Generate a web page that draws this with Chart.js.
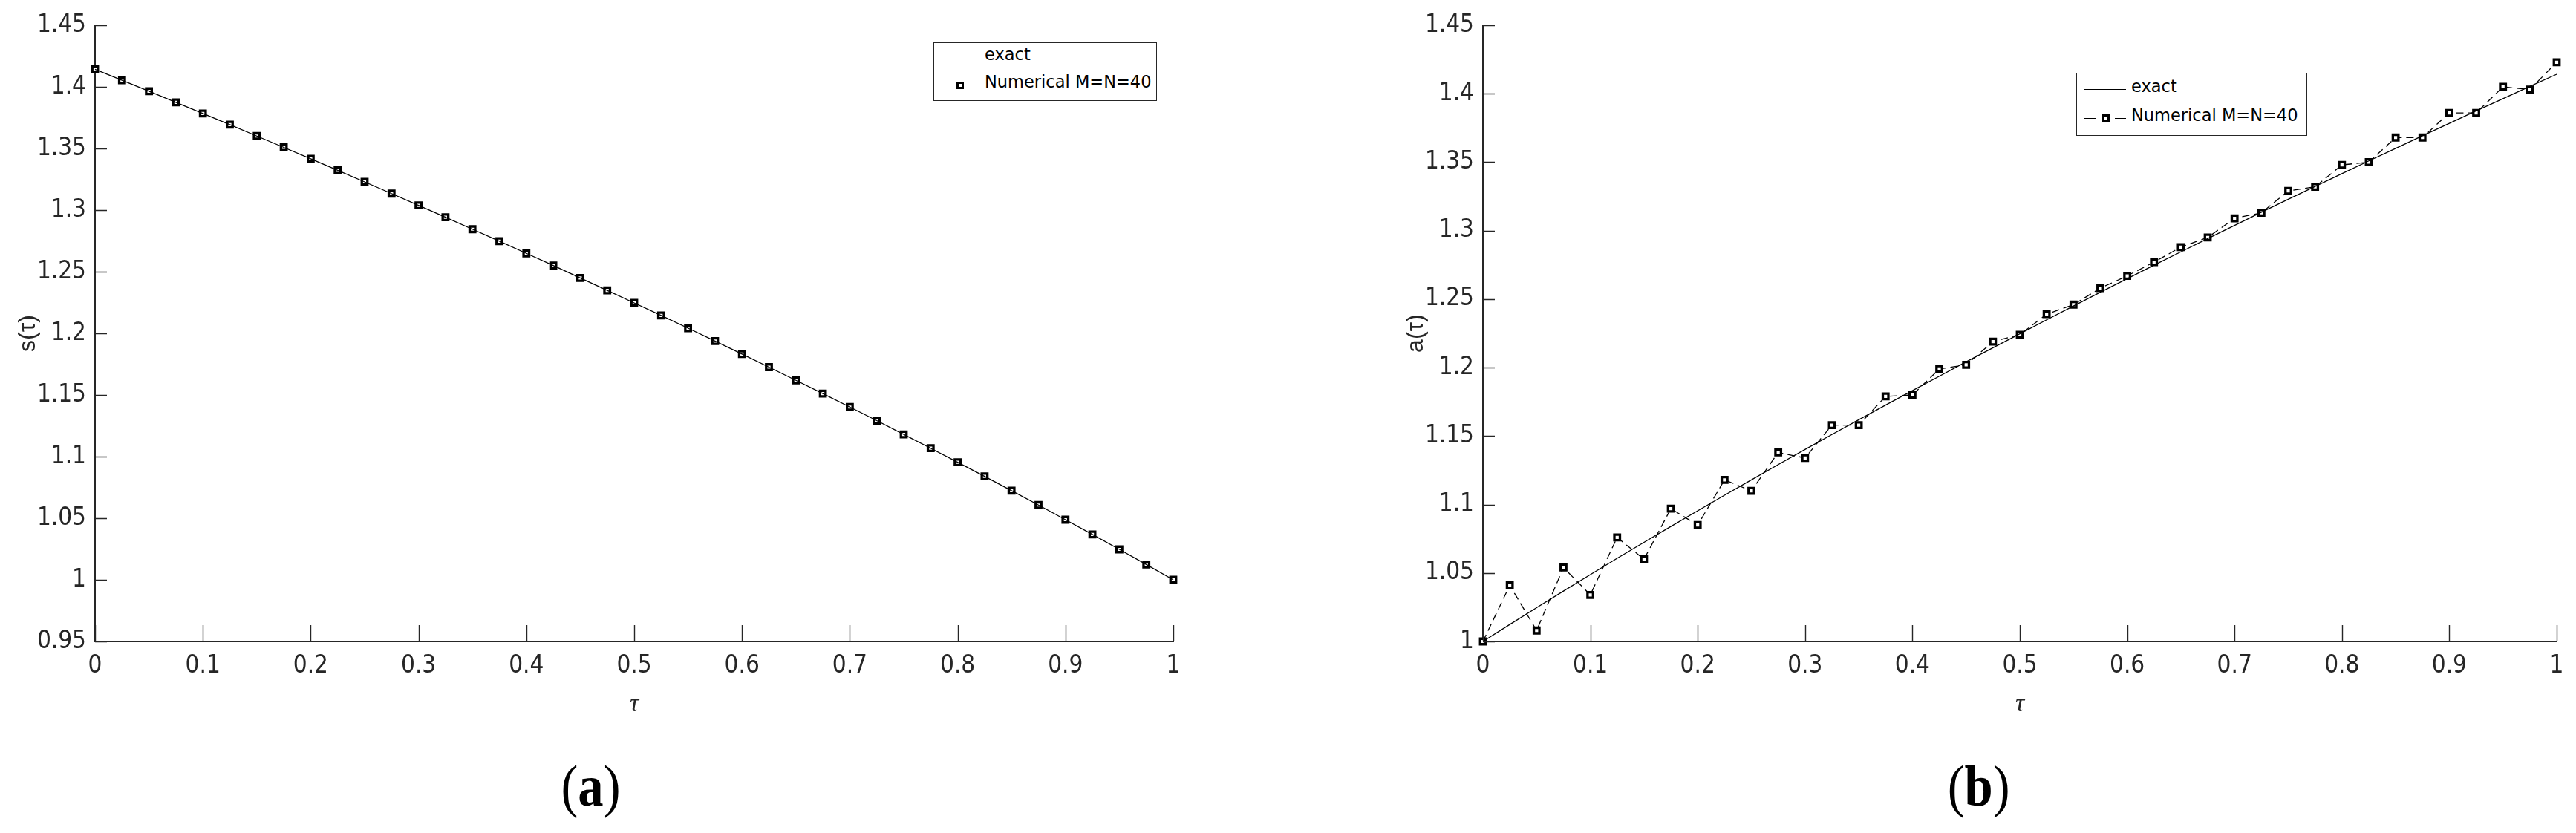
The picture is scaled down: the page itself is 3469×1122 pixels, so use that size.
<!DOCTYPE html>
<html>
<head>
<meta charset="utf-8">
<script src="https://cdn.jsdelivr.net/npm/chart.js@4.4.1/dist/chart.umd.min.js"></script>
<style>
  body { margin: 0; background: #fff; width: 3469px; height: 1122px; position: relative; overflow: hidden; }
  .panel { position: absolute; top: 0; height: 1000px; }
  .legend { position: absolute; border: 1.5px solid #262626; background: #fff; font-family: 'DejaVu Sans', sans-serif; font-size: 22.5px; color: #000; box-sizing: border-box; }
  .legend .txt { position: absolute; white-space: nowrap; }
  .legend .ln { position: absolute; height: 0; border-top: 1.6px solid #000; }
  .legend .mk { position: absolute; width: 4px; height: 4px; border: 3px solid #000; background: #fff; }
  .caption { position: absolute; top: 1020px; font-family: 'Liberation Serif', 'Times New Roman', serif; font-size: 78px; line-height: 78px; color: #000; transform: scaleX(0.88); transform-origin: center; }
</style>
</head>
<body>

<div class="panel" style="left:0; width:1700px;"><canvas id="chartS"></canvas></div>
<div class="panel" style="left:1800px; width:1669px;"><canvas id="chartA"></canvas></div>

<div class="legend" style="left:1257px; top:57px; width:301px; height:79px;">
  <div class="ln" style="left:5px; top:21px; width:55px;"></div>
  <div class="txt" style="left:68px; top:2px;">exact</div>
  <div class="mk" style="left:30px; top:52px;"></div>
  <div class="txt" style="left:68px; top:39px;">Numerical M=N=40</div>
</div>

<div class="legend" style="left:2796px; top:98px; width:311px; height:85px;">
  <div class="ln" style="left:10px; top:21px; width:56px;"></div>
  <div class="txt" style="left:73px; top:4px;">exact</div>
  <div class="ln" style="left:10px; top:60px; width:16px;"></div>
  <div class="mk" style="left:34px; top:55px;"></div>
  <div class="ln" style="left:51px; top:60px; width:15px;"></div>
  <div class="txt" style="left:73px; top:43px;">Numerical M=N=40</div>
</div>

<div class="caption" style="left:750px;">(<b>a</b>)</div>
<div class="caption" style="left:2617px;">(<b>b</b>)</div>

<script>
// time grid shared by both panels
const tau = [0, 0.025, 0.05, 0.075, 0.1, 0.125, 0.15, 0.175, 0.2, 0.225,
             0.25, 0.275, 0.3, 0.325, 0.35, 0.375, 0.4, 0.425, 0.45, 0.475,
             0.5, 0.525, 0.55, 0.575, 0.6, 0.625, 0.65, 0.675, 0.7, 0.725,
             0.75, 0.775, 0.8, 0.825, 0.85, 0.875, 0.9, 0.925, 0.95, 0.975, 1];

// (a) s(tau): markers sit on the exact curve
const sValues = [1.4142, 1.4053, 1.3964, 1.3874, 1.3784, 1.3693, 1.3601, 1.3509, 1.3416, 1.3323,
                 1.3229, 1.3134, 1.3038, 1.2942, 1.2845, 1.2748, 1.2649, 1.2550, 1.2450, 1.2349,
                 1.2247, 1.2145, 1.2042, 1.1937, 1.1832, 1.1726, 1.1619, 1.1511, 1.1402, 1.1292,
                 1.1180, 1.1068, 1.0954, 1.0840, 1.0724, 1.0607, 1.0488, 1.0368, 1.0247, 1.0124, 1.0000];

// (b) a(tau): exact curve and oscillating numerical solution
const aExact = [1.0000, 1.0124, 1.0247, 1.0368, 1.0488, 1.0607, 1.0724, 1.0840, 1.0954, 1.1068,
                1.1180, 1.1292, 1.1402, 1.1511, 1.1619, 1.1726, 1.1832, 1.1937, 1.2042, 1.2145,
                1.2247, 1.2349, 1.2450, 1.2550, 1.2649, 1.2748, 1.2845, 1.2942, 1.3038, 1.3134,
                1.3229, 1.3323, 1.3416, 1.3509, 1.3601, 1.3693, 1.3784, 1.3874, 1.3964, 1.4053, 1.4142];
const aNumerical = [1.000, 1.041, 1.008, 1.054, 1.034, 1.076, 1.060, 1.097, 1.085, 1.118,
                    1.110, 1.138, 1.134, 1.158, 1.158, 1.179, 1.180, 1.199, 1.202, 1.219,
                    1.224, 1.239, 1.246, 1.258, 1.267, 1.277, 1.288, 1.295, 1.309, 1.313,
                    1.329, 1.332, 1.348, 1.350, 1.368, 1.368, 1.386, 1.386, 1.405, 1.403, 1.423];

// tick values
const xTicks = [0, 0.1, 0.2, 0.3, 0.4, 0.5, 0.6, 0.7, 0.8, 0.9, 1];
const yTicksS = [0.95, 1, 1.05, 1.1, 1.15, 1.2, 1.25, 1.3, 1.35, 1.4, 1.45];
const yTicksA = [1, 1.05, 1.1, 1.15, 1.2, 1.25, 1.3, 1.35, 1.4, 1.45];

const axisColor = '#262626';
const tickFont = { family: "'Liberation Sans Narrow', 'Arial Narrow', 'DejaVu Sans Condensed', sans-serif", size: 33 };

const toPoints = vals => tau.map((t, i) => ({ x: t, y: vals[i] }));

// MATLAB style ticks pointing into the plot
const inwardTicks = {
    id: 'inwardTicks',
    afterDatasetsDraw(chart) {
        const { ctx, chartArea, scales } = chart;
        ctx.save();
        ctx.strokeStyle = axisColor;
        ctx.lineWidth = 1.4;
        ctx.beginPath();
        scales.x.ticks.forEach(t => {
            const px = Math.round(scales.x.getPixelForValue(t.value)) + 0.5;
            ctx.moveTo(px, chartArea.bottom);
            ctx.lineTo(px, chartArea.bottom - 22);
        });
        scales.y.ticks.forEach(t => {
            const py = Math.round(scales.y.getPixelForValue(t.value)) + 0.5;
            ctx.moveTo(chartArea.left, py);
            ctx.lineTo(chartArea.left + 16, py);
        });
        ctx.stroke();
        ctx.restore();
    }
};

function makeChart(id, datasets, yTicks, yTitle, leftPad, rightPad) {
    return new Chart(document.getElementById(id), {
        type: 'scatter',
        data: { datasets },
        options: {
            responsive: true,
            maintainAspectRatio: false,
            animation: false,
            events: [],
            layout: { padding: { top: 34, right: rightPad, bottom: 0, left: leftPad } },
            plugins: { legend: { display: false }, tooltip: { enabled: false } },
            scales: {
                x: {
                    type: 'linear',
                    min: 0, max: 1,
                    afterBuildTicks: s => { s.ticks = xTicks.map(v => ({ value: v })); },
                    afterFit: s => { s.height = 136; },
                    grid: { display: false, drawTicks: false },
                    border: { display: true, color: axisColor, width: 2 },
                    ticks: { color: axisColor, font: tickFont, padding: 14, maxRotation: 0, callback: v => String(v) },
                    title: { display: true, text: 'τ', color: axisColor,
                             font: { family: "'Liberation Serif', serif", size: 34, style: 'italic' },
                             padding: { top: 0, bottom: 31 } }
                },
                y: {
                    type: 'linear',
                    min: yTicks[0], max: yTicks[yTicks.length - 1],
                    afterBuildTicks: s => { s.ticks = yTicks.map(v => ({ value: v })); },
                    afterFit: s => { s.width = 128; },
                    grid: { display: false, drawTicks: false },
                    border: { display: true, color: axisColor, width: 2 },
                    ticks: { color: axisColor, font: tickFont, padding: 12, callback: v => String(v) },
                    title: { display: true, text: yTitle, color: axisColor,
                             font: { family: "'Liberation Sans Narrow', 'Arial Narrow', sans-serif", size: 32 },
                             padding: { top: 19, bottom: 0 } }
                }
            }
        },
        plugins: [inwardTicks]
    });
}

// --- (a) s(tau) ---
makeChart('chartS', [
    {
        label: 'exact',
        data: toPoints(sValues),
        showLine: true,
        borderColor: '#000',
        borderWidth: 1.3,
        pointRadius: 0,
        clip: false
    },
    {
        label: 'Numerical M=N=40',
        data: toPoints(sValues),
        showLine: false,
        pointStyle: 'rect',
        pointRadius: 5.3,
        pointBorderWidth: 3.3,
        pointBorderColor: '#000',
        pointBackgroundColor: '#fff',
        clip: false
    }
], yTicksS, 's(τ)', 0, 120);

// --- (b) a(tau) ---
makeChart('chartA', [
    {
        label: 'exact',
        data: toPoints(aExact),
        showLine: true,
        borderColor: '#000',
        borderWidth: 1.3,
        pointRadius: 0,
        clip: false
    },
    {
        label: 'Numerical M=N=40',
        data: toPoints(aNumerical),
        showLine: true,
        borderColor: '#000',
        borderWidth: 1.3,
        borderDash: [10, 6],
        pointStyle: 'rect',
        pointRadius: 5.3,
        pointBorderWidth: 3.3,
        pointBorderColor: '#000',
        pointBackgroundColor: '#fff',
        clip: false
    }
], yTicksA, 'a(τ)', 69, 26);
</script>
</body>
</html>
